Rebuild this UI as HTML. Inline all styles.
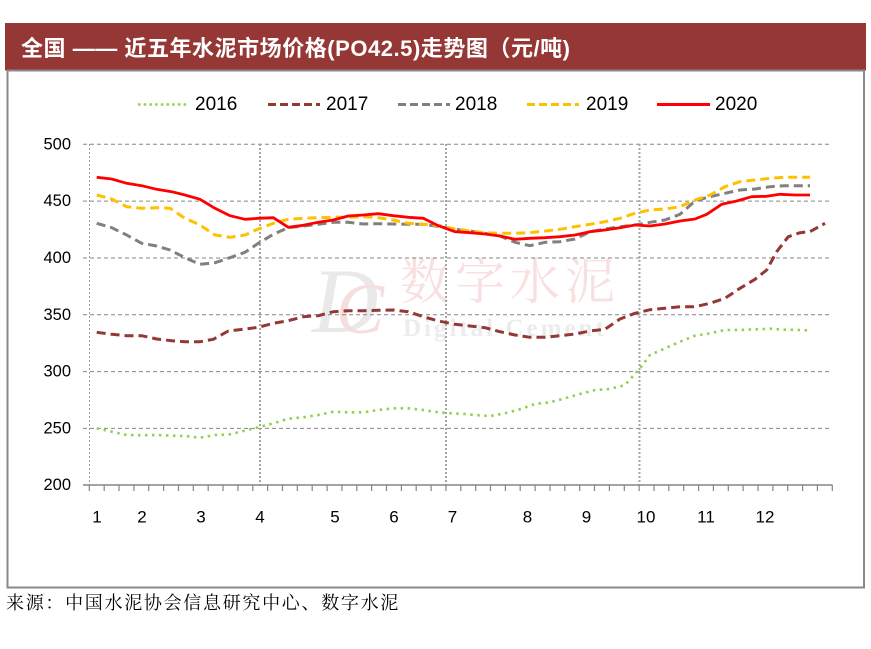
<!DOCTYPE html>
<html>
<head>
<meta charset="utf-8">
<style>
  html,body{margin:0;padding:0;background:#fff;}
  body{width:871px;height:649px;overflow:hidden;}
  svg{display:block;}
</style>
</head>
<body>
<svg width="871" height="649" viewBox="0 0 871 649" xmlns="http://www.w3.org/2000/svg">
  <!-- Title bar -->
  <rect x="5" y="23" width="861" height="47.5" fill="#953735"/>
  <text x="21" y="48.5" dominant-baseline="central" fill="#ffffff" font-weight="bold" font-size="22" font-family="'Liberation Sans','Noto Sans CJK SC',sans-serif" textLength="549" lengthAdjust="spacing">全国 —— 近五年水泥市场价格(PO42.5)走势图（元/吨)</text>

  <!-- Frame -->
  <rect x="7.5" y="70.5" width="856.5" height="517" fill="none" stroke="#898989" stroke-width="2"/>

  <!-- Legend -->
  <g font-family="'Liberation Sans',sans-serif" font-size="19" fill="#000" dominant-baseline="central">
    <line x1="138" y1="104.5" x2="188" y2="104.5" stroke="#92D050" stroke-width="2.6" stroke-dasharray="2.5 3.2"/>
    <text x="195" y="104.5">2016</text>
    <line x1="268" y1="104.5" x2="320" y2="104.5" stroke="#953735" stroke-width="3" stroke-dasharray="8 4"/>
    <text x="326" y="104.5">2017</text>
    <line x1="398" y1="104.5" x2="450" y2="104.5" stroke="#808080" stroke-width="3" stroke-dasharray="8 4"/>
    <text x="455" y="104.5">2018</text>
    <line x1="527" y1="104.5" x2="579" y2="104.5" stroke="#FFC000" stroke-width="3" stroke-dasharray="8 4"/>
    <text x="586" y="104.5">2019</text>
    <line x1="657" y1="104.5" x2="710" y2="104.5" stroke="#FF0000" stroke-width="3"/>
    <text x="715" y="104.5">2020</text>
  </g>

  <!-- Watermark -->
  <g>
    <text x="312" y="332" font-family="'Liberation Serif',serif" font-style="italic" font-size="92" fill="#e9e9e9">D</text>
    <text x="336" y="333" font-family="'Liberation Serif',serif" font-style="italic" font-size="72" fill="#f7dede">C</text>
    <text x="400" y="299" font-family="'Liberation Serif','Noto Serif CJK SC',serif" font-size="50" fill="#f8e0e0" letter-spacing="5">数字水泥</text>
    <text x="403" y="336" font-family="'Liberation Serif',serif" font-weight="bold" font-size="25" fill="#ececec" letter-spacing="3">Digital Cement</text>
  </g>

  <!-- Horizontal gridlines -->
  <g stroke="#868686" stroke-width="1" stroke-dasharray="4 3">
    <line x1="83" y1="144.3" x2="832" y2="144.3"/>
    <line x1="83" y1="201.1" x2="832" y2="201.1"/>
    <line x1="83" y1="258" x2="832" y2="258"/>
    <line x1="83" y1="314.8" x2="832" y2="314.8"/>
    <line x1="83" y1="371.6" x2="832" y2="371.6"/>
    <line x1="83" y1="428.4" x2="832" y2="428.4"/>
  </g>
  <!-- y axis dotted -->
  <line x1="89.5" y1="144" x2="89.5" y2="485" stroke="#9a9a9a" stroke-width="1" stroke-dasharray="2 2"/>
  <!-- vertical quarter separators -->
  <g stroke="#a6a6a6" stroke-width="2" stroke-dasharray="2 2">
    <line x1="260" y1="144" x2="260" y2="485"/>
    <line x1="446" y1="144" x2="446" y2="485"/>
    <line x1="639.5" y1="144" x2="639.5" y2="485"/>
  </g>

  <!-- X axis -->
  <line x1="83" y1="485" x2="832.5" y2="485" stroke="#868686" stroke-width="1.5"/>
  <g stroke="#868686" stroke-width="1.2" id="ticks"></g>

  <!-- Y labels -->
  <g font-family="'Liberation Sans',sans-serif" font-size="16.5" fill="#000" text-anchor="end" dominant-baseline="central">
    <text x="71" y="144.3">500</text>
    <text x="71" y="201.1">450</text>
    <text x="71" y="258">400</text>
    <text x="71" y="314.8">350</text>
    <text x="71" y="371.6">300</text>
    <text x="71" y="428.4">250</text>
    <text x="71" y="485">200</text>
  </g>
  <!-- X labels -->
  <g font-family="'Liberation Sans',sans-serif" font-size="17" fill="#000" text-anchor="middle" dominant-baseline="central">
    <text x="97" y="517">1</text>
    <text x="142" y="517">2</text>
    <text x="201" y="517">3</text>
    <text x="260" y="517">4</text>
    <text x="335" y="517">5</text>
    <text x="394" y="517">6</text>
    <text x="452.5" y="517">7</text>
    <text x="527.5" y="517">8</text>
    <text x="586.5" y="517">9</text>
    <text x="646" y="517">10</text>
    <text x="706" y="517">11</text>
    <text x="765" y="517">12</text>
  </g>

  <!-- Series -->
  <g fill="none" stroke-linejoin="round">
    <polyline stroke="#92D050" stroke-width="2.6" stroke-dasharray="2.5 4.5" points="96.7,428.3 111.7,431.7 126.7,435 141.7,435.3 156.7,435 171.7,435.7 185,436 200,437.7 215,435 228.3,434.7 243.3,431 258.3,427.3 273.3,423.3 288.3,418.7 303.3,417.3 318.3,415 333.3,411.7 348.3,412.3 363.3,412.3 378.3,410 393.3,408.3 408.3,408.3 423.3,410 438.3,412.3 451.7,413.3 465,414 475,415 490,416 505,413.3 520,409.3 535,404 550,402.3 565,398.3 580,394 595,390 610,389 625,385 640,368.3 650,355 665,348.3 680,341.7 695,335.7 710,333.3 725,330 740,330 755,329.3 770,328.7 785,329.7 800,330 808,330.3"/>
    <polyline stroke="#953735" stroke-width="3" stroke-dasharray="9 5" points="96.7,332.3 111.7,334.3 126.7,335.7 141.7,335.7 156.7,339 171.7,340.7 185,341.7 200,341.7 213.3,339.3 228.3,331 243.3,329.3 258.3,327.3 273.3,323.3 288.3,320.7 303.3,316.7 318.3,315.7 333.3,311.7 348.3,310.7 363.3,310.7 378.3,310.3 393.3,310 408.3,311.7 423.3,316.7 438.3,321 455,324.3 470,326 485,327.7 500,331.7 515,335 530,337.3 545,337.3 560,335.7 575,334 590,331 605,329.3 620,319 635,313.3 650,309.7 665,308.3 680,306.7 695,306.7 710,303.3 725,298.3 740,288.3 755,279.3 766.7,270 776.7,251.7 788.3,236.7 800,232.7 810,231.7 825,223.3"/>
    <polyline stroke="#808080" stroke-width="3" stroke-dasharray="9 5" points="96.7,223.3 111.7,227.7 126.7,235 141.7,243.3 156.7,246 170,250 185,257.7 200,264.3 215,262.7 230,257.7 245,252.3 258.3,243.3 273.3,234.3 288.3,227.7 303.3,226 318.3,224.3 333.3,222.3 348.3,222.3 363.3,224 378.3,223.7 393.3,224 408.3,224.3 423.3,224.3 440,226.7 455,229.3 470,231 485,233.3 500,236 515,242.3 530,245.7 545,242.3 560,241.7 575,239 590,231.7 605,229 620,226.7 635,225 650,222.3 665,220 680,214.3 695,201 710,196.7 725,193.3 740,190 755,189 770,186.7 785,185.7 800,185.7 810,185.7"/>
    <polyline stroke="#FFC000" stroke-width="3" stroke-dasharray="9 5" points="96.7,195 111.7,199 126.7,206.7 141.7,208.3 156.7,207.7 170,208.3 185,218.3 200,225 215,235 230,237.3 245,235 258.3,229 273.3,223.3 288.3,219.3 303.3,218.3 318.3,217.7 333.3,217.3 348.3,217.3 363.3,216.7 378.3,217.7 393.3,220 408.3,223.3 423.3,224.3 440,225.7 455,229 470,231 485,232.7 500,233.3 515,233.3 530,232.7 545,231 560,229.3 575,226.7 590,224.3 605,221.7 620,218.3 635,213.3 650,210 665,209 680,206.7 695,200 710,195 725,186.7 740,181.7 755,180 770,178.3 785,177.3 800,177.3 810,177.3"/>
    <polyline stroke="#FF0000" stroke-width="2.8" points="96.7,177.3 111.7,179 126.7,183.3 141.7,185.7 156.7,189.3 171.7,191.7 185,195 200,199.3 215,208.3 230,215.7 245,219.3 258.3,218.3 273.3,217.7 288.3,227.3 303.3,225.3 318.3,222.3 333.3,220 348.3,216 363.3,215 378.3,213.7 393.3,215.7 408.3,217.3 423.3,218.3 438.3,225.7 455,231.7 470,232.7 485,234 500,236 515,239.3 530,238.3 545,237.7 560,236.7 575,235 590,231.7 605,230 620,227.7 635,225 650,226 665,224 680,221 695,219 706.7,214.3 721.7,204.3 736.7,201 751.7,196.7 766.7,196.3 780,194.3 795,195 810,195"/>
  </g>

  <!-- Tick marks (51) -->
  <g stroke="#868686" stroke-width="1.2">
    <line x1="89.3" y1="485" x2="89.3" y2="491"/><line x1="104.2" y1="485" x2="104.2" y2="491"/><line x1="119" y1="485" x2="119" y2="491"/><line x1="133.9" y1="485" x2="133.9" y2="491"/><line x1="148.7" y1="485" x2="148.7" y2="491"/><line x1="163.6" y1="485" x2="163.6" y2="491"/><line x1="178.5" y1="485" x2="178.5" y2="491"/><line x1="193.3" y1="485" x2="193.3" y2="491"/><line x1="208.2" y1="485" x2="208.2" y2="491"/><line x1="223" y1="485" x2="223" y2="491"/><line x1="237.9" y1="485" x2="237.9" y2="491"/><line x1="252.8" y1="485" x2="252.8" y2="491"/><line x1="267.6" y1="485" x2="267.6" y2="491"/><line x1="282.5" y1="485" x2="282.5" y2="491"/><line x1="297.3" y1="485" x2="297.3" y2="491"/><line x1="312.2" y1="485" x2="312.2" y2="491"/><line x1="327.1" y1="485" x2="327.1" y2="491"/><line x1="341.9" y1="485" x2="341.9" y2="491"/><line x1="356.8" y1="485" x2="356.8" y2="491"/><line x1="371.6" y1="485" x2="371.6" y2="491"/><line x1="386.5" y1="485" x2="386.5" y2="491"/><line x1="401.4" y1="485" x2="401.4" y2="491"/><line x1="416.2" y1="485" x2="416.2" y2="491"/><line x1="431.1" y1="485" x2="431.1" y2="491"/><line x1="445.9" y1="485" x2="445.9" y2="491"/><line x1="460.8" y1="485" x2="460.8" y2="491"/><line x1="475.7" y1="485" x2="475.7" y2="491"/><line x1="490.5" y1="485" x2="490.5" y2="491"/><line x1="505.4" y1="485" x2="505.4" y2="491"/><line x1="520.2" y1="485" x2="520.2" y2="491"/><line x1="535.1" y1="485" x2="535.1" y2="491"/><line x1="550" y1="485" x2="550" y2="491"/><line x1="564.8" y1="485" x2="564.8" y2="491"/><line x1="579.7" y1="485" x2="579.7" y2="491"/><line x1="594.5" y1="485" x2="594.5" y2="491"/><line x1="609.4" y1="485" x2="609.4" y2="491"/><line x1="624.3" y1="485" x2="624.3" y2="491"/><line x1="639.1" y1="485" x2="639.1" y2="491"/><line x1="654" y1="485" x2="654" y2="491"/><line x1="668.8" y1="485" x2="668.8" y2="491"/><line x1="683.7" y1="485" x2="683.7" y2="491"/><line x1="698.6" y1="485" x2="698.6" y2="491"/><line x1="713.4" y1="485" x2="713.4" y2="491"/><line x1="728.3" y1="485" x2="728.3" y2="491"/><line x1="743.1" y1="485" x2="743.1" y2="491"/><line x1="758" y1="485" x2="758" y2="491"/><line x1="772.9" y1="485" x2="772.9" y2="491"/><line x1="787.7" y1="485" x2="787.7" y2="491"/><line x1="802.6" y1="485" x2="802.6" y2="491"/><line x1="817.4" y1="485" x2="817.4" y2="491"/><line x1="832.3" y1="485" x2="832.3" y2="491"/>
  </g>

  <!-- Source -->
  <text x="6" y="603" dominant-baseline="central" font-family="'Liberation Serif','Noto Serif CJK SC',serif" font-size="18" fill="#000" letter-spacing="1.7">来源：中国水泥协会信息研究中心、数字水泥</text>
</svg>
</body>
</html>
